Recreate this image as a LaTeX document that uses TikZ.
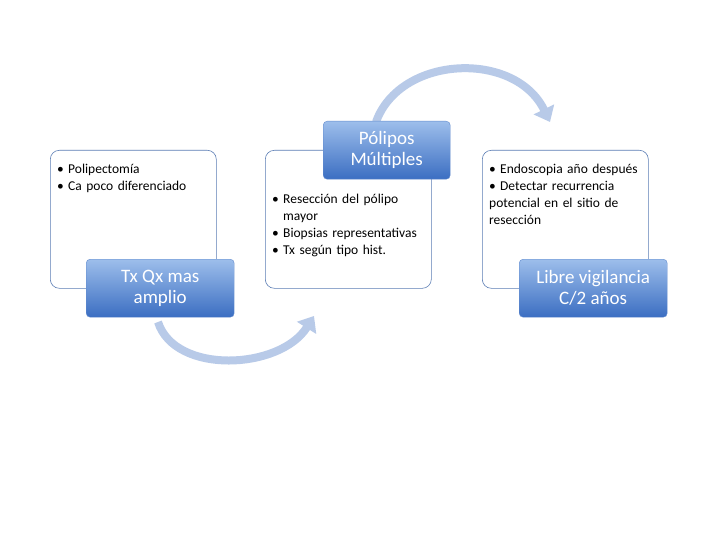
\documentclass[tikz,border=0pt]{standalone}
\usepackage{fontspec}
\setmainfont{Carlito}
\usetikzlibrary{arrows.meta}
\definecolor{bord}{HTML}{5B7DB5}
\definecolor{ltop}{HTML}{9DBEEB}
\definecolor{lbot}{HTML}{3B6EC2}
\definecolor{arr}{HTML}{B8CAE8}
\newcommand{\bitem}[1]{\par\hyphenpenalty=10000\relax\noindent\hangindent=11pt\hangafter=1\makebox[11pt][l]{\textbullet}#1}
\tikzset{
 panel/.style={draw=bord, line width=0.6pt, rounded corners=9pt, fill=white, minimum width=166pt, minimum height=138pt, anchor=north west},
 lab/.style={rounded corners=4pt, top color=ltop, bottom color=lbot, draw=lbot!80, text=white, font=\fontsize{19}{21}\selectfont, align=center, minimum width=148pt, minimum height=58pt, anchor=north west},
 txt/.style={font=\fontsize{13.5}{17}\selectfont, align=left, anchor=north west, inner sep=0pt},
 flow/.style={arr, line width=8pt, -{Triangle[length=14pt,width=22pt]}}
}
\begin{document}
\begin{tikzpicture}[x=1pt,y=-1pt]
\useasboundingbox[fill=white] (0,0) rectangle (720,540);
\node[panel] (p1) at (50,150) {};
\node[panel] (p2) at (265,150) {};
\node[panel] (p3) at (482,150) {};
\coordinate (a1s) at (158,322);
\coordinate (a1e) at (314,316);
\draw[flow] (a1s) .. controls (175,375) and (280,370) .. (a1e);
\coordinate (a2s) at (376,122);
\coordinate (a2e) at (550,122);
\draw[flow] (a2s) .. controls (400,55) and (515,50) .. (a2e);
\node[lab] (l1) at (86,259) {Tx Qx mas\\amplio};
\node[lab, minimum width=127pt] (l2) at (323,121) {Pólipos\\Múltiples};
\node[lab] (l3) at (519,259) {Libre vigilancia\\C/2 años};
\node[txt, text width=160pt] (t1) at (57,156) {\bitem{Polipectomía}\bitem{Ca poco diferenciado}};
\node[txt, text width=150pt] (t2) at (272,186) {\bitem{Resección del pólipo mayor}\bitem{Biopsias representativas}\bitem{Tx según tipo hist.}};
\node[txt, text width=150pt] (t3) at (489,156) {\bitem{Endoscopia año después}\bitem{Detectar recurrencia potencial en el sitio de resección}};
\end{tikzpicture}
\end{document}
